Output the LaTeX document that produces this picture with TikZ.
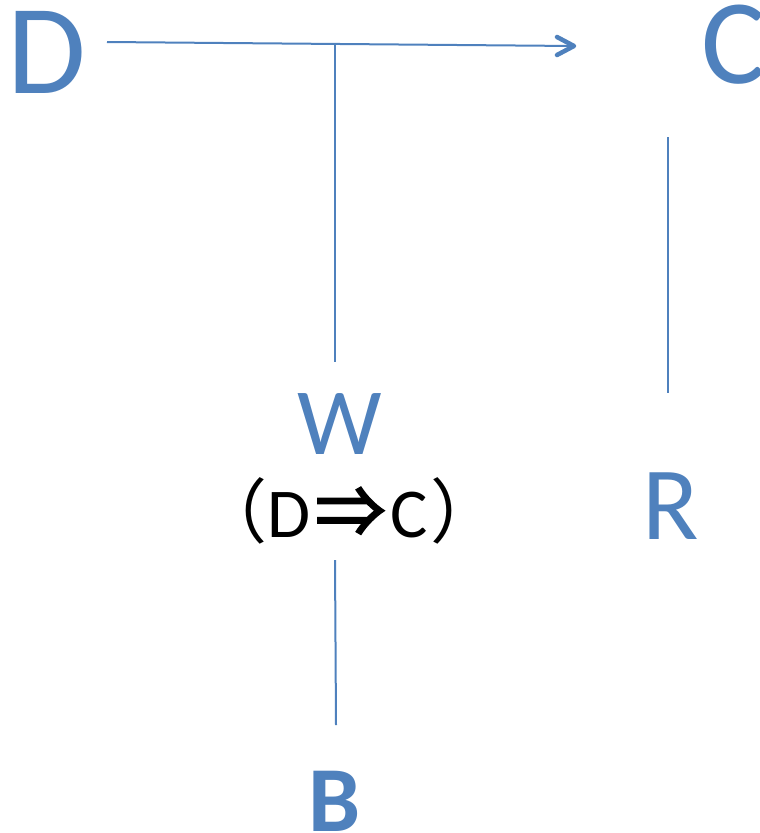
\documentclass[tikz,border=0pt]{standalone}
\usepackage{fontspec}
\setmainfont{Carlito}
\newfontfamily\cjkfont{Noto Sans CJK SC}
\newfontfamily\cjkarrow{Noto Sans CJK SC}[FakeBold=3]
\usetikzlibrary{arrows.meta}
\definecolor{officeblue}{RGB}{79,129,189}
\tikzset{
  lbl/.style={inner sep=0pt, outer sep=0pt, text=officeblue, anchor=base west},
  link/.style={draw=officeblue, line width=2pt},
  barb/.style={draw=officeblue, line width=4.5pt, line cap=round, line join=round}
}
\begin{document}
\begin{tikzpicture}[x=1pt,y=-1pt]
\useasboundingbox (0,0) rectangle (760,833);
\node[lbl, font=\fontsize{128}{130}\selectfont] (D) at (7,93) {D};
\node[lbl, font=\fontsize{121}{124}\selectfont] (C) at (701,83) {C};
\node[lbl, font=\fontsize{95}{98}\selectfont] (W) at (297,454) {W};
\node[inner sep=0pt, anchor=base, text=black, font=\fontsize{70}{72}\selectfont] (WD) at (349,537) {{\cjkfont（}D\hspace{5pt}{\cjkarrow ⇒}\hspace{5pt}C\hspace{3pt}{\cjkfont ）}};
\node[lbl, font=\fontsize{104}{106}\selectfont] (R) at (642,539) {R};
\node[lbl, font=\bfseries\fontsize{93}{96}\selectfont] (B) at (308,831) {B};
\coordinate (d1) at (107,42);
\coordinate (c1) at (574,46);
\coordinate (w1) at (335,44);
\coordinate (w2) at (335,362);
\coordinate (c2) at (668,137);
\coordinate (r1) at (668,393);
\coordinate (w3) at (335,560);
\coordinate (b1) at (336,725);
\draw[link] (d1) -- (c1);
\draw[barb] ([shift={(-17,-9)}]c1) -- (c1) -- ([shift={(-17,9)}]c1);
\draw[link] (w1) -- (w2);
\draw[link] (c2) -- (r1);
\draw[link] (w3) -- (b1);
\end{tikzpicture}
\end{document}
